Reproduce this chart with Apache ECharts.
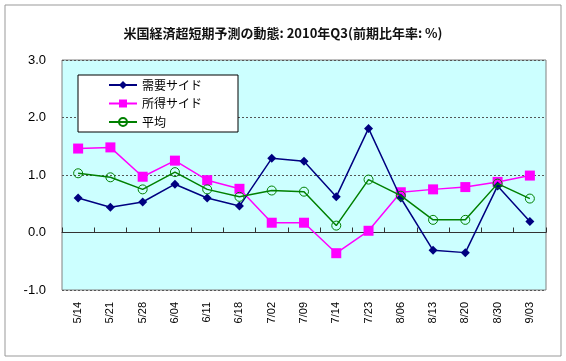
<!DOCTYPE html>
<html><head><meta charset="utf-8">
<script src="https://cdn.jsdelivr.net/npm/echarts@6/dist/echarts.min.js"></script>
<style>html,body{margin:0;padding:0;background:#fff;}#c{width:566px;height:361px;}</style>
</head><body><div id="c"></div>
<script>
const categories = ['5/14','5/21','5/28','6/04','6/11','6/18','7/02','7/09','7/14','7/23','8/06','8/13','8/20','8/30','9/03'];
const demandSide = [0.60,0.44,0.53,0.84,0.60,0.46,1.29,1.24,0.62,1.81,0.60,-0.31,-0.35,0.81,0.19];
const incomeSide = [1.46,1.48,0.97,1.25,0.91,0.76,0.17,0.17,-0.36,0.03,0.70,0.75,0.79,0.88,0.99];
const average = [1.03,0.96,0.75,1.05,0.75,0.62,0.73,0.71,0.12,0.92,0.64,0.22,0.22,0.85,0.59];
const seriesNames = ['需要サイド','所得サイド','平均'];
const titleText = '米国経済超短期予測の動態: 2010年Q3(前期比年率: %)';

const chart = echarts.init(document.getElementById('c'));
const font = 'Arial, "Liberation Sans", "Noto Sans CJK JP", sans-serif';
chart.setOption({
  animation:false,
  backgroundColor:'#fff',
  graphic:[{type:'rect',shape:{x:5,y:5,width:556,height:351},style:{fill:'none',stroke:'#999',lineWidth:1},silent:true}],
  title:{text:titleText,left:'center',top:22,textStyle:{fontFamily:'"Noto Sans CJK JP", sans-serif',fontSize:13,fontWeight:'bold',color:'#111'}},
  legend:{
    orient:'vertical',left:78,top:75,
    backgroundColor:'#fff',borderColor:'#000',borderWidth:1,
    padding:[4,36,4,30],itemGap:6.5,itemWidth:28,itemHeight:10,
    textStyle:{fontFamily:'"Noto Sans CJK JP", sans-serif',fontSize:12,color:'#000'},
    data:seriesNames
  },
  grid:{left:62,right:20,top:60,bottom:71,show:true,backgroundColor:'#CCFFFF',borderColor:'#808080',borderWidth:1},
  xAxis:[
    {type:'category',data:categories,boundaryGap:true,position:'bottom',
     axisLine:{show:false,onZero:false},axisTick:{show:false},
     axisLabel:{rotate:90,interval:0,fontSize:11,fontFamily:font,color:'#000',margin:12}},
    {type:'category',data:categories,boundaryGap:true,position:'bottom',
     axisLine:{show:true,onZero:true,lineStyle:{color:'#333',width:1}},
     axisTick:{show:true,inside:true,length:5,interval:0,lineStyle:{color:'#333'}},
     axisLabel:{show:false}}
  ],
  yAxis:{type:'value',min:-1,max:3,interval:1,
    axisLine:{show:false},axisTick:{show:false},
    axisLabel:{formatter:v=>v.toFixed(1),fontSize:13,fontFamily:font,color:'#000',margin:16},
    splitLine:{show:true,lineStyle:{color:'#555',type:[2,2],width:1}}},
  series:[
    {name:seriesNames[0],type:'line',data:demandSide,symbol:'diamond',symbolSize:9,z:4,
     lineStyle:{color:'#000080',width:1.5},itemStyle:{color:'#000080'}},
    {name:seriesNames[1],type:'line',data:incomeSide,symbol:'rect',symbolSize:10,z:3,
     lineStyle:{color:'#FF00FF',width:1.5},itemStyle:{color:'#FF00FF'}},
    {name:seriesNames[2],type:'line',data:average,symbol:'circle',symbolSize:9,z:5,
     lineStyle:{color:'#008000',width:1.5},itemStyle:{color:'rgba(0,0,0,0)',borderColor:'#008000',borderWidth:1}}
  ]
});
</script></body></html>
